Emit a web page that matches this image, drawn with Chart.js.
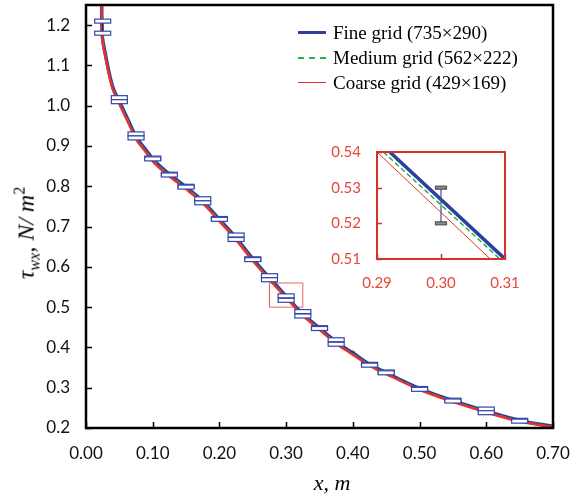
<!DOCTYPE html>
<html>
<head>
<meta charset="utf-8">
<script src="https://cdn.jsdelivr.net/npm/chart.js@4.4.1/dist/chart.umd.min.js"></script>
<style>
  body { margin: 0; background: #fff; }
  #wrap { position: relative; width: 579px; height: 500px; overflow: hidden; }
  #main { position: absolute; left: 0; top: 0; }
  #inset { position: absolute; left: 300px; top: 135px; }
  .serif { font-family: "Liberation Serif", "DejaVu Serif", serif; color: #000; }
  #legend { position: absolute; left: 298px; top: 20px; font-size: 19px; line-height: 25px; }
  #legend .row { display: flex; align-items: center; white-space: nowrap; }
  #legend .swatch { width: 28px; margin-right: 7px; }
  #ytitle { position: absolute; left: 27px; top: 233px; transform: translate(-50%, -50%) rotate(-90deg);
            font-size: 24px; font-style: italic; white-space: nowrap; }
  #ytitle sub { font-size: 16px; }
  #ytitle sup { font-size: 16px; font-style: normal; }
  #xtitle { position: absolute; left: 332px; top: 483px; transform: translate(-50%, -50%);
            font-size: 22px; font-style: italic; white-space: nowrap; }
</style>
</head>
<body>
<div id="wrap">
  <canvas id="main" width="579" height="500"></canvas>
  <canvas id="inset" width="220" height="165"></canvas>
  <div id="legend" class="serif">
    <div class="row"><span class="swatch" style="border-top:3.5px solid #2c3e9e"></span>Fine grid (735×290)</div>
    <div class="row"><span class="swatch" style="border-top:2px dashed #22b14c"></span>Medium grid (562×222)</div>
    <div class="row"><span class="swatch" style="border-top:1.5px solid #e5332a"></span>Coarse grid (429×169)</div>
  </div>
  <div id="ytitle" class="serif">τ<sub>wx</sub>, N/ m<sup>2</sup></div>
  <div id="xtitle" class="serif">x, m</div>
</div>
<script>
// wall shear stress along x
const curveX = [0.0235, 0.0238, 0.025, 0.0288, 0.0337, 0.040, 0.049, 0.063, 0.075, 0.090, 0.100,
                0.125, 0.150, 0.175, 0.200, 0.225, 0.250, 0.275, 0.300, 0.325, 0.350, 0.375,
                0.400, 0.425, 0.450, 0.500, 0.550, 0.600, 0.650, 0.700];
const fineY = [1.26, 1.20, 1.165, 1.13, 1.089, 1.047, 1.014, 0.965, 0.923, 0.890, 0.868,
               0.830, 0.798, 0.763, 0.718, 0.672, 0.620, 0.573, 0.527, 0.483, 0.448, 0.414,
               0.386, 0.358, 0.337, 0.298, 0.268, 0.242, 0.219, 0.204];
const mediumY = [1.258, 1.198, 1.162, 1.128, 1.087, 1.045, 1.012, 0.963, 0.921, 0.888, 0.866,
                 0.828, 0.796, 0.761, 0.716, 0.670, 0.618, 0.571, 0.525, 0.481, 0.446, 0.412,
                 0.384, 0.357, 0.336, 0.297, 0.267, 0.241, 0.218, 0.203];
const coarseY = [1.255, 1.195, 1.158, 1.124, 1.083, 1.041, 1.008, 0.959, 0.917, 0.884, 0.862,
                 0.825, 0.793, 0.758, 0.713, 0.667, 0.615, 0.568, 0.523, 0.479, 0.444, 0.410,
                 0.382, 0.355, 0.334, 0.295, 0.265, 0.239, 0.216, 0.202];

// error bars (upper / lower caps)
const errX = [0.025, 0.05, 0.075, 0.10, 0.125, 0.15, 0.175, 0.20, 0.225, 0.25, 0.275, 0.30,
              0.325, 0.35, 0.375, 0.425, 0.45, 0.50, 0.55, 0.60, 0.65];
const errHigh = [1.21, 1.02, 0.93, 0.870, 0.830, 0.800, 0.769, 0.720, 0.679, 0.620, 0.578, 0.528,
                 0.489, 0.449, 0.419, 0.358, 0.339, 0.298, 0.269, 0.247, 0.219];
const errLow = [1.18, 1.01, 0.92, 0.868, 0.828, 0.798, 0.759, 0.718, 0.668, 0.618, 0.568, 0.517,
                0.478, 0.447, 0.408, 0.356, 0.337, 0.296, 0.267, 0.238, 0.217];

const probeX = [0.40];
const probeY = [0.386];

// zoomed region marker
const boxX = [0.275, 0.325, 0.325, 0.275, 0.275];
const boxY = [0.50, 0.50, 0.56, 0.56, 0.50];

const xTicks = [0.00, 0.10, 0.20, 0.30, 0.40, 0.50, 0.60, 0.70];
const yTicks = [0.2, 0.3, 0.4, 0.5, 0.6, 0.7, 0.8, 0.9, 1.0, 1.1, 1.2];

// inset (0.29-0.31)
const insetFineX = [0.292, 0.310];
const insetFineY = [0.540, 0.510];
const insetMediumX = [0.291, 0.3092];
const insetMediumY = [0.540, 0.510];
const insetCoarseX = [0.290, 0.3077];
const insetCoarseY = [0.540, 0.510];
const insetErrX = [0.30];
const insetErrHigh = [0.53];
const insetErrLow = [0.52];
const insetXTicks = [0.29, 0.30, 0.31];
const insetYTicks = [0.51, 0.52, 0.53, 0.54];

const BLUE = '#2c3e9e', GREEN = '#22b14c', RED = '#e5332a';

function toXY(xs, ys) {
    return xs.map((x, i) => ({ x: x, y: ys[i] }));
}

// frame around the plot plus inward tick marks
function framePlugin(color, width, tickLen, xs, ys) {
    return {
        id: 'frame',
        afterDraw(chart) {
            const ctx = chart.ctx, a = chart.chartArea;
            const sx = chart.scales.x, sy = chart.scales.y;
            ctx.save();
            ctx.strokeStyle = color;
            ctx.lineWidth = width;
            ctx.strokeRect(a.left, a.top, a.right - a.left, a.bottom - a.top);
            ctx.lineWidth = 1.5;
            ctx.beginPath();
            xs.forEach(v => {
                const px = Math.round(sx.getPixelForValue(v)) + 0.5;
                ctx.moveTo(px, a.bottom);
                ctx.lineTo(px, a.bottom - tickLen);
            });
            ys.forEach(v => {
                const py = Math.round(sy.getPixelForValue(v)) + 0.5;
                ctx.moveTo(a.left, py);
                ctx.lineTo(a.left + tickLen, py);
            });
            ctx.stroke();
            ctx.restore();
        }
    };
}

function errorBarPlugin(xs, hi, lo, capW, capH, capFill, capStroke, stemColor) {
    return {
        id: 'errbars',
        afterDatasetsDraw(chart) {
            const ctx = chart.ctx;
            const sx = chart.scales.x, sy = chart.scales.y;
            ctx.save();
            xs.forEach((x, i) => {
                const px = sx.getPixelForValue(x);
                const yh = sy.getPixelForValue(hi[i]);
                const yl = sy.getPixelForValue(lo[i]);
                ctx.strokeStyle = stemColor;
                ctx.lineWidth = 1.2;
                ctx.beginPath();
                ctx.moveTo(px, yh);
                ctx.lineTo(px, yl);
                ctx.stroke();
                [yh, yl].forEach(py => {
                    ctx.fillStyle = capFill;
                    ctx.fillRect(px - capW / 2, py - capH / 2, capW, capH);
                    ctx.strokeStyle = capStroke;
                    ctx.lineWidth = 1.2;
                    ctx.strokeRect(px - capW / 2, py - capH / 2, capW, capH);
                });
            });
            ctx.restore();
        }
    };
}

// Main chart
new Chart(document.getElementById('main'), {
    type: 'line',
    data: {
        datasets: [
            { label: 'Coarse grid (429×169)', data: toXY(curveX, coarseY), borderColor: RED,
              borderWidth: 2.5, pointRadius: 0, cubicInterpolationMode: 'monotone' },
            { label: 'Medium grid (562×222)', data: toXY(curveX, mediumY), borderColor: GREEN,
              borderWidth: 1.5, borderDash: [6, 4], pointRadius: 0, cubicInterpolationMode: 'monotone' },
            { label: 'Fine grid (735×290)', data: toXY(curveX, fineY), borderColor: BLUE,
              borderWidth: 3.5, pointRadius: 0, cubicInterpolationMode: 'monotone' },
            { label: 'probe', data: toXY(probeX, probeY), showLine: false, pointRadius: 2.5,
              backgroundColor: '#4a82c4', borderWidth: 0 },
            { label: 'zoom', data: toXY(boxX, boxY), borderColor: '#e06a6a', borderWidth: 1,
              pointRadius: 0, tension: 0 }
        ]
    },
    options: {
        responsive: false,
        animation: false,
        layout: { padding: { top: 5, right: 26, left: 0, bottom: 0 } },
        plugins: { legend: { display: false }, tooltip: { enabled: false } },
        scales: {
            x: {
                type: 'linear', min: 0, max: 0.7,
                grid: { display: false, drawTicks: false },
                border: { display: false },
                afterBuildTicks: s => { s.ticks = xTicks.map(v => ({ value: v })); },
                ticks: { callback: v => v.toFixed(2), font: { family: 'Lato', size: 17 },
                         color: '#111', padding: 15, maxRotation: 0, autoSkip: false },
                afterFit: s => { s.height = 72; s.paddingLeft = 0; s.paddingRight = 0; }
            },
            y: {
                type: 'linear', min: 0.2, max: 1.25,
                grid: { display: false, drawTicks: false },
                border: { display: false },
                afterBuildTicks: s => { s.ticks = yTicks.map(v => ({ value: v })); },
                ticks: { callback: v => v.toFixed(1), font: { family: 'Lato', size: 17 },
                         color: '#111', padding: 16, autoSkip: false },
                afterFit: s => { s.width = 86; s.paddingTop = 0; s.paddingBottom = 0; }
            }
        }
    },
    plugins: [
        framePlugin('#000', 2.5, 6, xTicks, yTicks),
        errorBarPlugin(errX, errHigh, errLow, 16, 4, '#fff', '#3347a6', '#1a1f50')
    ]
});

// Inset zoom chart
new Chart(document.getElementById('inset'), {
    type: 'line',
    data: {
        datasets: [
            { data: toXY(insetFineX, insetFineY), borderColor: BLUE, borderWidth: 3.5,
              pointRadius: 0, tension: 0 },
            { data: toXY(insetMediumX, insetMediumY), borderColor: GREEN, borderWidth: 1.5,
              borderDash: [5, 3], pointRadius: 0, tension: 0 },
            { data: toXY(insetCoarseX, insetCoarseY), borderColor: RED, borderWidth: 1,
              pointRadius: 0, tension: 0 }
        ]
    },
    options: {
        responsive: false,
        animation: false,
        layout: { padding: { top: 17, right: 15, left: 0, bottom: 0 } },
        plugins: { legend: { display: false }, tooltip: { enabled: false } },
        scales: {
            x: {
                type: 'linear', min: 0.29, max: 0.31,
                grid: { display: false, drawTicks: false },
                border: { display: false },
                afterBuildTicks: s => { s.ticks = insetXTicks.map(v => ({ value: v })); },
                ticks: { callback: v => v.toFixed(2), font: { family: 'Lato', size: 15 },
                         color: '#e8463c', padding: 15, maxRotation: 0, autoSkip: false },
                afterFit: s => { s.height = 41; s.paddingLeft = 0; s.paddingRight = 0; }
            },
            y: {
                type: 'linear', min: 0.51, max: 0.54,
                grid: { display: false, drawTicks: false },
                border: { display: false },
                afterBuildTicks: s => { s.ticks = insetYTicks.map(v => ({ value: v })); },
                ticks: { callback: v => v.toFixed(2), font: { family: 'Lato', size: 15 },
                         color: '#e8463c', padding: 16, autoSkip: false },
                afterFit: s => { s.width = 77; s.paddingTop = 0; s.paddingBottom = 0; }
            }
        }
    },
    plugins: [
        framePlugin('#d6322c', 2, 5, insetXTicks, insetYTicks),
        errorBarPlugin(insetErrX, insetErrHigh, insetErrLow, 11, 3, '#8c8c8c', '#555', '#4050a0')
    ]
});
</script>
</body>
</html>
